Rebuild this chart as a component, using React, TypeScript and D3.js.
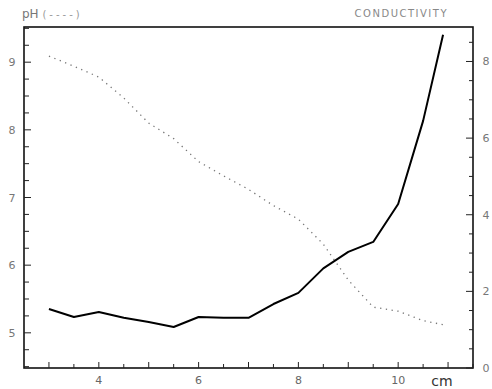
import React, { useRef, useEffect } from "react";
import * as d3 from "d3";

const positions = [3.0, 3.5, 4.0, 4.5, 5.0, 5.5, 6.0, 6.5, 7.0, 7.5, 8.0, 8.5, 9.0, 9.5, 10.0, 10.5, 10.9];
const conductivity = [1.54, 1.33, 1.46, 1.31, 1.2, 1.07, 1.33, 1.31, 1.31, 1.67, 1.96, 2.6, 3.03, 3.29, 4.28, 6.45, 8.7];
const pHValues = [9.09, 8.94, 8.78, 8.47, 8.1, 7.87, 7.53, 7.32, 7.12, 6.88, 6.68, 6.31, 5.78, 5.38, 5.32, 5.18, 5.12];

const xTickLabels = [4, 6, 8, 10];
const pHTickLabels = [5, 6, 7, 8, 9];
const condTickLabels = [0, 2, 4, 6, 8];

const W = 492;
const H = 389;
const M = { left: 24, right: 19, top: 27, bottom: 21 };

export default function App() {
  const ref = useRef<SVGSVGElement>(null);

  useEffect(() => {
    const svg = d3.select(ref.current);
    svg.selectAll("*").remove();

    const x = d3.scaleLinear().domain([2.5, 11.5]).range([M.left, W - M.right]);
    const yPH = d3.scaleLinear().domain([4.48, 9.52]).range([H - M.bottom, M.top]);
    const yC = d3.scaleLinear().domain([0, 8.9]).range([H - M.bottom, M.top]);

    const g = svg.append("g");
    const font = "DejaVu Sans, sans-serif";

    g.append("rect")
      .attr("x", M.left)
      .attr("y", M.top)
      .attr("width", W - M.left - M.right)
      .attr("height", H - M.top - M.bottom)
      .attr("fill", "none")
      .attr("stroke", "#111")
      .attr("stroke-width", 1.6);

    const bottomY = H - M.bottom;

    const xt = d3.range(3, 11.51, 0.5);
    g.selectAll(".xt")
      .data(xt)
      .enter()
      .append("line")
      .attr("x1", (d) => x(d))
      .attr("x2", (d) => x(d))
      .attr("y1", bottomY)
      .attr("y2", (d) => bottomY - (Number.isInteger(d) ? 6 : 4))
      .attr("stroke", "#222")
      .attr("stroke-width", 1);

    g.selectAll(".xl")
      .data(xTickLabels)
      .enter()
      .append("text")
      .attr("x", (d) => x(d))
      .attr("y", bottomY + 16)
      .attr("text-anchor", "middle")
      .attr("font-family", font)
      .attr("font-size", 11)
      .attr("fill", "#666")
      .text((d) => String(d));

    g.append("text")
      .attr("x", 442)
      .attr("y", bottomY + 18)
      .attr("text-anchor", "middle")
      .attr("font-family", font)
      .attr("font-size", 14)
      .attr("fill", "#333")
      .text("cm");

    const pt = d3.range(4.5, 9.51, 0.25);
    g.selectAll(".pt")
      .data(pt)
      .enter()
      .append("line")
      .attr("x1", M.left)
      .attr("x2", (d) => M.left + (Number.isInteger(d) ? 7 : 5))
      .attr("y1", (d) => yPH(d))
      .attr("y2", (d) => yPH(d))
      .attr("stroke", "#222")
      .attr("stroke-width", 1);

    g.selectAll(".pl")
      .data(pHTickLabels)
      .enter()
      .append("text")
      .attr("x", 12)
      .attr("y", (d) => yPH(d) + 4)
      .attr("text-anchor", "middle")
      .attr("font-family", font)
      .attr("font-size", 11)
      .attr("fill", "#777")
      .text((d) => String(d));

    const rx = W - M.right;
    const ct = d3.range(0, 8.81, 0.5);
    g.selectAll(".ct")
      .data(ct)
      .enter()
      .append("line")
      .attr("x1", rx)
      .attr("x2", (d) => rx - (Number.isInteger(d / 2) ? 7 : 4))
      .attr("y1", (d) => yC(d))
      .attr("y2", (d) => yC(d))
      .attr("stroke", "#222")
      .attr("stroke-width", 1);

    g.selectAll(".cl")
      .data(condTickLabels)
      .enter()
      .append("text")
      .attr("x", 486)
      .attr("y", (d) => yC(d) + 4)
      .attr("text-anchor", "middle")
      .attr("font-family", font)
      .attr("font-size", 11)
      .attr("fill", "#777")
      .text((d) => String(d));

    const t = g.append("text")
      .attr("x", 22)
      .attr("y", 18)
      .attr("font-family", font)
      .attr("fill", "#777");
    t.append("tspan").attr("font-size", 12).text("pH ");
    t.append("tspan").attr("font-size", 10).attr("letter-spacing", 3).attr("fill", "#999").text("(----)");

    g.append("text")
      .attr("x", 448)
      .attr("y", 17)
      .attr("text-anchor", "end")
      .attr("font-family", font)
      .attr("font-size", 10)
      .attr("letter-spacing", 1.5)
      .attr("fill", "#888")
      .text("CONDUCTIVITY");

    const pData = positions.map((p, i) => [p, pHValues[i]] as [number, number]);
    const lineP = d3
      .line<[number, number]>()
      .x((d) => x(d[0]))
      .y((d) => yPH(d[1]));
    g.append("path")
      .attr("d", lineP(pData) || "")
      .attr("fill", "none")
      .attr("stroke", "#777")
      .attr("stroke-width", 1.3)
      .attr("stroke-dasharray", "1.3,4.5");

    const cData = positions.map((p, i) => [p, conductivity[i]] as [number, number]);
    const lineC = d3
      .line<[number, number]>()
      .x((d) => x(d[0]))
      .y((d) => yC(d[1]));
    g.append("path")
      .attr("d", lineC(cData) || "")
      .attr("fill", "none")
      .attr("stroke", "#000")
      .attr("stroke-width", 2)
      .attr("stroke-linejoin", "round");
  }, []);

  return (
    <svg
      ref={ref}
      width={W}
      height={H}
      style={{ position: "absolute", left: 0, top: 0, background: "#fff" }}
    />
  );
}
